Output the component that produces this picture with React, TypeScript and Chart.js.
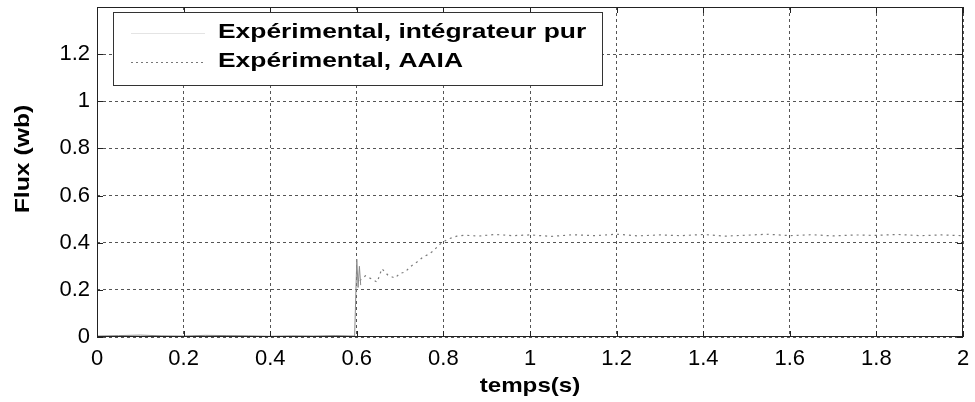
import React, { useEffect, useRef } from "react";
import { Chart, registerables } from "chart.js";

Chart.register(...registerables);

const seriesLabels = ["Expérimental, intégrateur pur", "Expérimental, AAIA"];
const xTitle = "temps(s)";
const yTitle = "Flux (wb)";

// Série 1 : intégrateur pur (trait continu)
const t1 = [0, 0.05, 0.1, 0.15, 0.2, 0.25, 0.3, 0.35, 0.4, 0.45, 0.5, 0.55, 0.595, 0.6, 0.603, 0.606, 0.609];
const v1 = [0.004, 0.006, 0.008, 0.005, 0.004, 0.007, 0.006, 0.005, 0.003, 0.005, 0.004, 0.006, 0.004, 0.33, 0.21, 0.3, 0.22];

// Série 2 : AAIA (pointillé)
const t2 = [0.607, 0.62, 0.635, 0.647, 0.658, 0.672, 0.688, 0.7, 0.711, 0.725, 0.739, 0.753, 0.765, 0.776, 0.792, 0.81, 0.831, 0.85, 0.88, 0.92, 0.96, 1.0, 1.05, 1.1, 1.15, 1.2, 1.25, 1.3, 1.35, 1.4, 1.45, 1.5, 1.55, 1.6, 1.65, 1.7, 1.75, 1.8, 1.85, 1.9, 1.95, 2.0];
const v2 = [0.239, 0.26, 0.245, 0.233, 0.29, 0.262, 0.25, 0.27, 0.275, 0.3, 0.318, 0.339, 0.35, 0.364, 0.394, 0.415, 0.428, 0.432, 0.428, 0.435, 0.43, 0.433, 0.427, 0.434, 0.43, 0.436, 0.429, 0.433, 0.43, 0.435, 0.428, 0.432, 0.436, 0.43, 0.434, 0.429, 0.433, 0.431, 0.435, 0.43, 0.433, 0.43];

const FONT = "'Liberation Sans', Arial, Helvetica, sans-serif";

const fmt = (v: number) => String(Number(v.toFixed(2)));

function stretchedText(ctx: any, text: string, x: number, y: number, sx: number) {
  ctx.save();
  ctx.translate(x, y);
  ctx.scale(sx, 1);
  ctx.fillText(text, 0, 0);
  ctx.restore();
}

export default function App() {
  const ref = useRef<HTMLCanvasElement | null>(null);

  useEffect(() => {
    const canvas = ref.current;
    if (!canvas) return;

    const framePlugin = {
      id: "frame",
      afterDraw(chart: any) {
        const { ctx, chartArea } = chart;
        const { left, right, top, bottom } = chartArea;
        const xs = chart.scales.x;
        const ys = chart.scales.y;
        ctx.save();
        ctx.strokeStyle = "#222";
        ctx.lineWidth = 1;
        ctx.setLineDash([]);
        ctx.strokeRect(left + 0.5, top + 0.5, right - left - 1, bottom - top - 1);
        ctx.beginPath();
        const tl = 6;
        xs.ticks.forEach((tk: any) => {
          const px = Math.round(xs.getPixelForValue(tk.value)) + 0.5;
          ctx.moveTo(px, bottom);
          ctx.lineTo(px, bottom - tl);
          ctx.moveTo(px, top);
          ctx.lineTo(px, top + tl);
        });
        ys.ticks.forEach((tk: any) => {
          const py = Math.round(ys.getPixelForValue(tk.value)) + 0.5;
          ctx.moveTo(left, py);
          ctx.lineTo(left + tl, py);
          ctx.moveTo(right, py);
          ctx.lineTo(right - tl, py);
        });
        ctx.stroke();

        // axis titles
        ctx.fillStyle = "#000";
        ctx.font = `bold 21px ${FONT}`;
        ctx.textAlign = "center";
        ctx.textBaseline = "alphabetic";
        stretchedText(ctx, xTitle, (left + right) / 2, 392, 1.15);
        ctx.save();
        ctx.translate(29, 159);
        ctx.rotate(-Math.PI / 2);
        ctx.scale(1.18, 1);
        ctx.fillText(yTitle, 0, 0);
        ctx.restore();

        // legend
        const bx = 113, by = 12, bw = 489, bh = 73;
        ctx.fillStyle = "#fff";
        ctx.fillRect(bx, by, bw, bh);
        ctx.strokeStyle = "#333";
        ctx.strokeRect(bx + 0.5, by + 0.5, bw, bh);
        const rows = [32, 61];
        chart.data.datasets.forEach((ds: any, i: number) => {
          ctx.beginPath();
          ctx.strokeStyle = i === 0 ? "#e4e4e4" : "#777";
          ctx.setLineDash(i === 0 ? [] : [2, 3]);
          ctx.moveTo(131, rows[i] + 1.5);
          ctx.lineTo(205, rows[i] + 1.5);
          ctx.stroke();
          ctx.setLineDash([]);
          ctx.fillStyle = "#000";
          ctx.font = `bold 20px ${FONT}`;
          ctx.textAlign = "left";
          ctx.textBaseline = "middle";
          stretchedText(ctx, ds.label, 218, rows[i], 1.32);
        });
        ctx.restore();
      },
    };

    const chart = new Chart(canvas, {
      type: "scatter",
      data: {
        datasets: [
          {
            label: seriesLabels[0],
            data: t1.map((x, i) => ({ x, y: v1[i] })),
            showLine: true,
            borderColor: "#8a8a8a",
            borderWidth: 1,
            pointRadius: 0,
          },
          {
            label: seriesLabels[1],
            data: t2.map((x, i) => ({ x, y: v2[i] })),
            showLine: true,
            borderColor: "#7a7a7a",
            borderWidth: 1.2,
            borderDash: [2, 4],
            pointRadius: 0,
          },
        ],
      },
      options: {
        responsive: false,
        animation: false,
        layout: { padding: { top: 7, right: 12, left: 0, bottom: 0 } },
        plugins: { legend: { display: false }, tooltip: { enabled: false } },
        scales: {
          x: {
            type: "linear",
            min: 0,
            max: 2,
            afterFit(scale: any) {
              scale.height = 65;
              scale.paddingLeft = 0;
              scale.paddingRight = 0;
            },
            grid: { color: "#555", lineWidth: 1, drawTicks: false },
            border: { display: false, dash: [3, 3] },
            ticks: {
              stepSize: 0.2,
              color: "#000",
              padding: 9,
              font: { family: FONT, size: 22 },
              maxRotation: 0,
              callback: (v: any) => fmt(Number(v)),
            },
          },
          y: {
            type: "linear",
            min: 0,
            max: 1.4,
            afterFit(scale: any) {
              scale.width = 97;
              scale.paddingTop = 0;
              scale.paddingBottom = 0;
            },
            afterBuildTicks(scale: any) {
              scale.ticks = scale.ticks.filter((t: any) => t.value < 1.35);
            },
            grid: { color: "#555", lineWidth: 1, drawTicks: false },
            border: { display: false, dash: [3, 3] },
            ticks: {
              stepSize: 0.2,
              color: "#000",
              padding: 7,
              font: { family: FONT, size: 22 },
              callback: (v: any) => fmt(Number(v)),
            },
          },
        },
      },
      plugins: [framePlugin],
    } as any);

    return () => chart.destroy();
  }, []);

  return (
    <div style={{ position: "absolute", left: 0, top: 0, width: 975, height: 402, background: "#fff" }}>
      <canvas ref={ref} width={975} height={402} />
    </div>
  );
}
